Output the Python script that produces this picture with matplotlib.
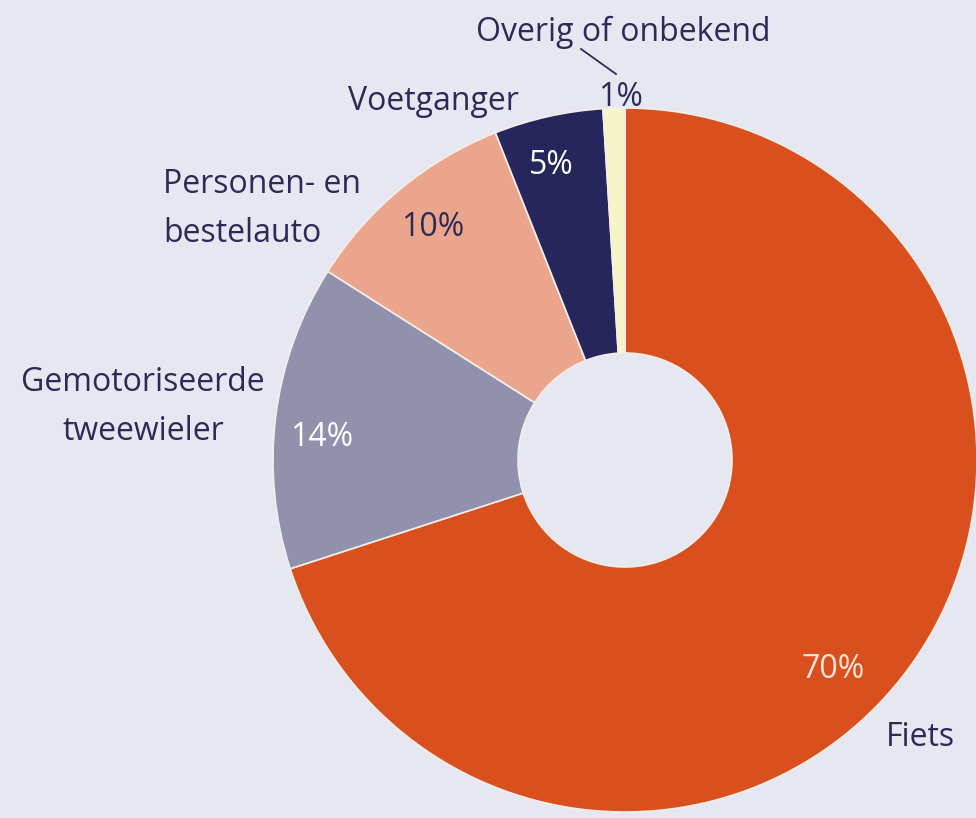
import matplotlib.pyplot as plt

plt.rcParams['font.family'] = ['Open Sans', 'DejaVu Sans']

# slices, clockwise from the top
categories = ["Fiets", "Gemotoriseerde tweewieler", "Personen- en bestelauto",
              "Voetganger", "Overig of onbekend"]
shares = [70, 14, 10, 5, 1]
pct_labels = ["70%", "14%", "10%", "5%", "1%"]
colors = ["#d9501e", "#9191ae", "#eba58c", "#27265c", "#f6f5c8"]

bg = "#e7e7f1"
navy = "#2b2b58"

fig = plt.figure(figsize=(9.76, 8.18), dpi=100, facecolor=bg)
ax = fig.add_axes([0, 0, 1, 1])
ax.set_facecolor(bg)

W, H = 976, 818
cx, cy, r = 625, H - 460, 352

ax.pie(shares, colors=colors, startangle=90, counterclock=False,
       center=(cx, cy), radius=r,
       wedgeprops=dict(width=r - 107, edgecolor="#f4eee8", linewidth=1.2))

ax.set_xlim(0, W)
ax.set_ylim(0, H)
ax.set_aspect("equal")
ax.axis("off")

fs = 23
wt = 500
# percentage labels
ax.text(833, H - 670, pct_labels[0], color="#fde6d6", fontsize=fs, weight=wt, ha="center", va="center")
ax.text(322, H - 437, pct_labels[1], color="white", fontsize=fs, weight=wt, ha="center", va="center")
ax.text(433, H - 228, pct_labels[2], color=navy, fontsize=fs, weight=wt, ha="center", va="center")
ax.text(551, H - 165, pct_labels[3], color="white", fontsize=fs, weight=wt, ha="center", va="center")
ax.text(621, H - 98, pct_labels[4], color=navy, fontsize=fs, weight=wt, ha="center", va="center")

# category labels
ax.text(920, H - 738, "Fiets", color=navy, fontsize=fs, weight=wt, ha="center", va="center")
ax.text(143, H - 407, "Gemotoriseerde\ntweewieler", color=navy, fontsize=fs, weight=wt,
        ha="center", va="center", linespacing=1.65)
ax.text(163, H - 209, "Personen- en\nbestelauto", color=navy, fontsize=fs, weight=wt,
        ha="left", va="center", linespacing=1.65)
ax.text(433, H - 102, "Voetganger", color=navy, fontsize=fs, weight=wt, ha="center", va="center")
ax.text(623, H - 32, "Overig of onbekend", color=navy, fontsize=fs, weight=wt, ha="center", va="center")
ax.plot([581, 616], [H - 49, H - 74], color=navy, linewidth=1.3)

fig.savefig("out.png", dpi=100, facecolor=bg)
